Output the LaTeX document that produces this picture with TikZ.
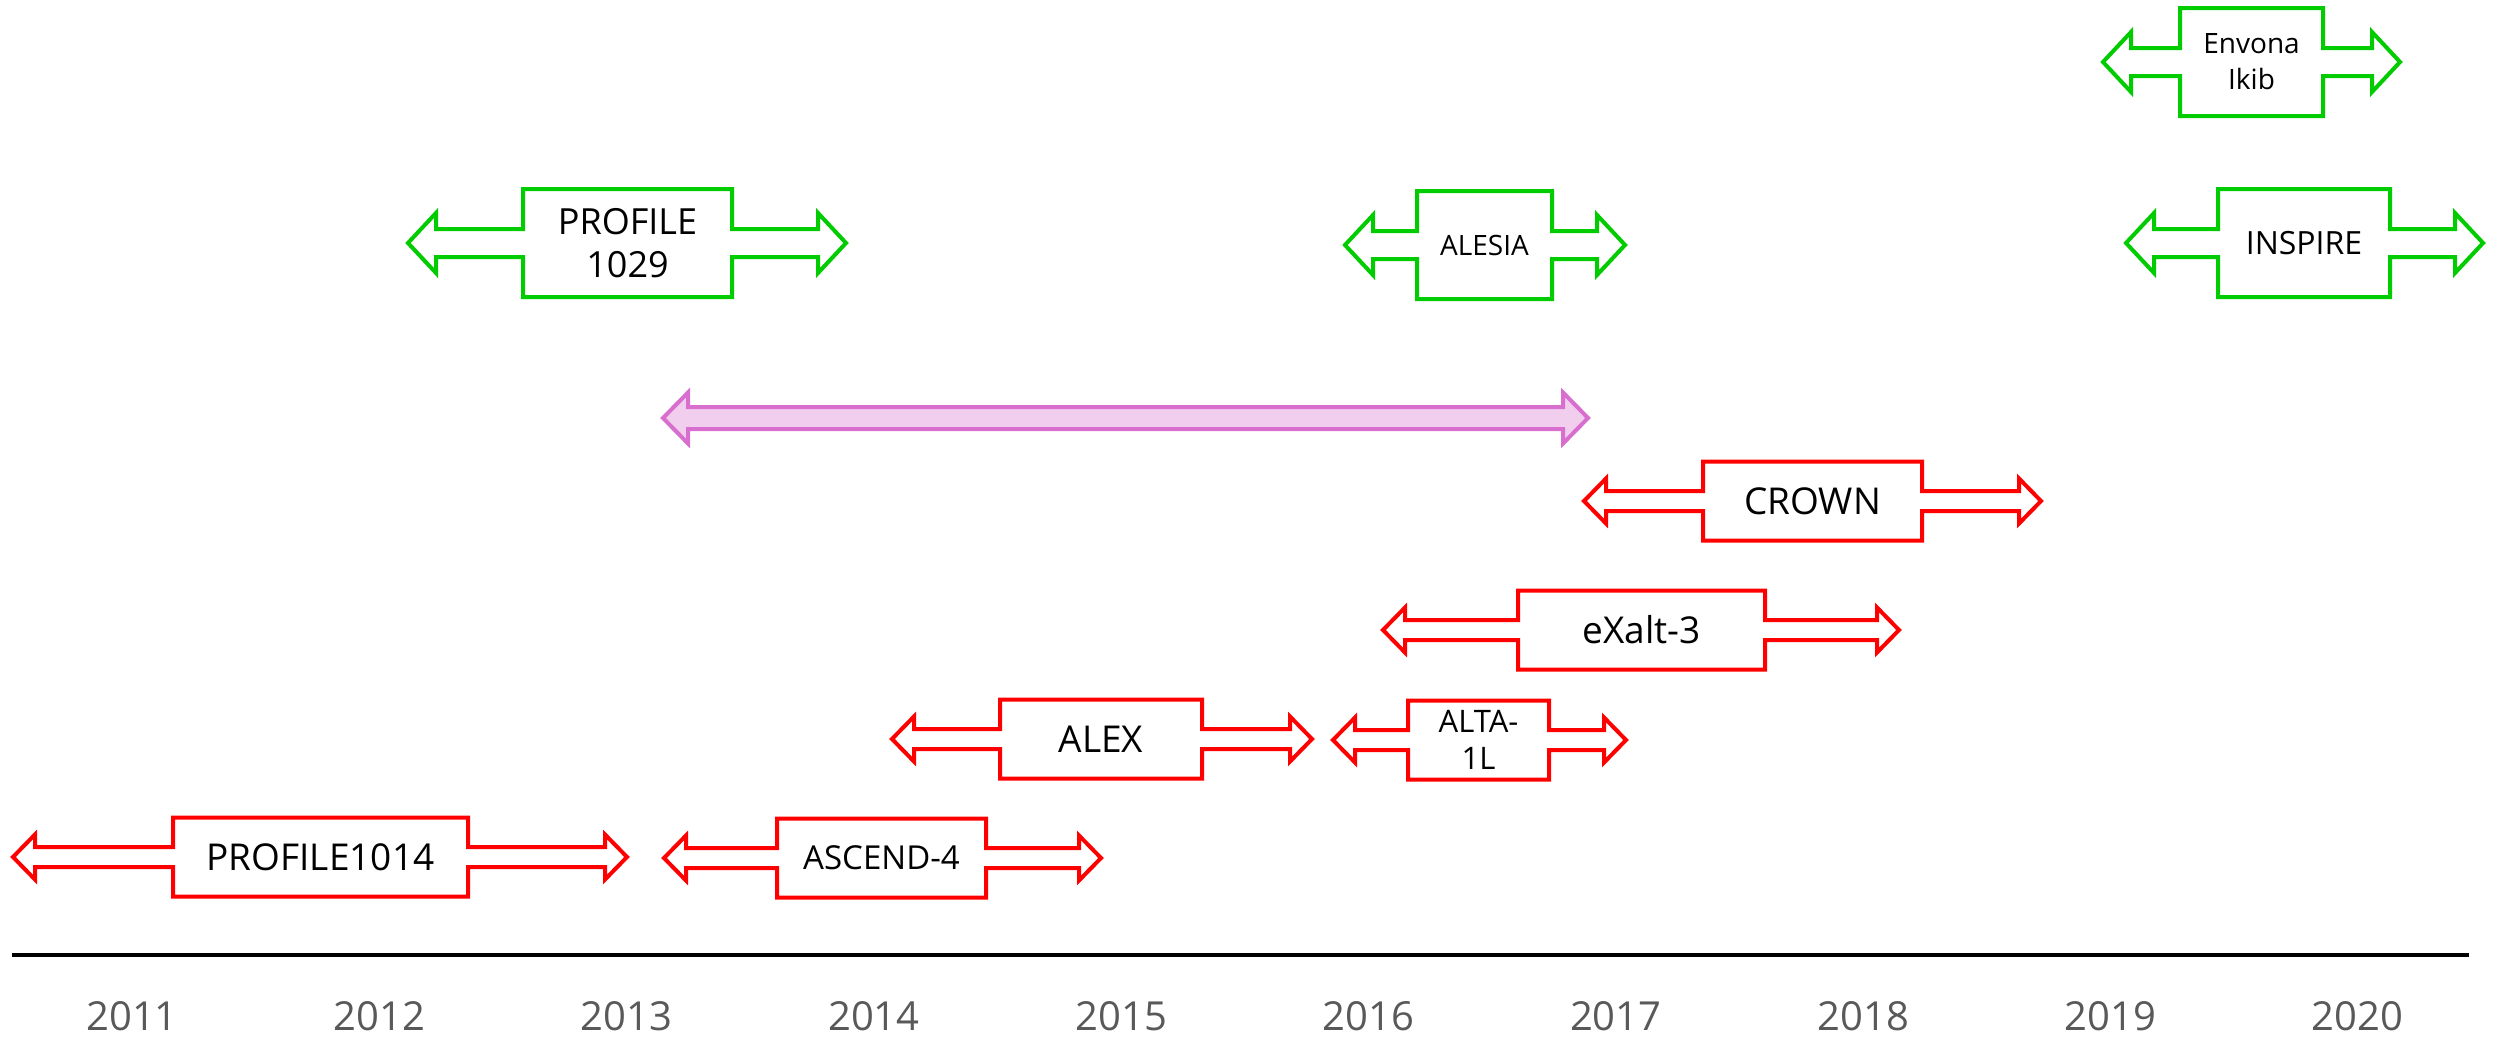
\documentclass[tikz,border=0pt]{standalone}
\usepackage{fontspec}
\setmainfont{Open Sans}
\definecolor{rd}{HTML}{FF0000}
\definecolor{gr}{HTML}{00CC00}
\definecolor{pkline}{HTML}{D86FCF}
\definecolor{pkfill}{HTML}{F2CEEE}
\definecolor{yr}{HTML}{595959}
\newcommand\fsz[2]{\fontsize{#1}{#2}\selectfont}
% #1 style, #2 xL, #3 x1, #4 x2, #5 xR, #6 yc ; dims from \BH \SH \HH \HL
\newcommand\dbl[6]{%
  \draw[#1] (#2,#6) -- ({#2+\HL},{#6-\HH}) -- ({#2+\HL},{#6-\SH}) -- (#3,{#6-\SH})
    -- (#3,{#6-\BH}) -- (#4,{#6-\BH}) -- (#4,{#6-\SH}) -- ({#5-\HL},{#6-\SH})
    -- ({#5-\HL},{#6-\HH}) -- (#5,#6) -- ({#5-\HL},{#6+\HH}) -- ({#5-\HL},{#6+\SH})
    -- (#4,{#6+\SH}) -- (#4,{#6+\BH}) -- (#3,{#6+\BH}) -- (#3,{#6+\SH})
    -- ({#2+\HL},{#6+\SH}) -- ({#2+\HL},{#6+\HH}) -- cycle;}
\begin{document}
\begin{tikzpicture}[x=1pt,y=-1pt,
  redbox/.style={draw=rd,line width=4pt,fill=white,line join=miter},
  greenbox/.style={draw=gr,line width=4pt,fill=white,line join=miter},
  pinkbar/.style={draw=pkline,line width=4pt,fill=pkfill,line join=miter},
  lbl/.style={align=center,inner sep=0pt,text=black},
  year/.style={text=yr,font=\fsz{40}{48},inner sep=0pt}]
\useasboundingbox (0,0) rectangle (2502,1036);
% axis
\coordinate (axL) at (12,955);
\coordinate (axR) at (2469,955);
\draw[line width=3.5pt] (axL) -- (axR);
\foreach \y [count=\i from 0] in {2011,...,2020}
  \node[year] (y\y) at ({132+247.3*\i},1016) {\y};
% red shapes
\def\BH{39.5}\def\SH{10}\def\HH{22.5}\def\HL{22}
\dbl{redbox}{13}{173}{468}{627}{857}
\node[lbl,font=\fsz{37}{44}] (p1014) at (320.5,857) {PROFILE1014};
\dbl{redbox}{664}{777}{986}{1101}{858}
\node[lbl,font=\fsz{33}{40}] (ascend) at (881.5,858) {ASCEND-4};
\dbl{redbox}{892}{1000}{1202}{1312}{739}
\node[lbl,font=\fsz{37}{44}] (alex) at (1101,739) {ALEX};
\dbl{redbox}{1333}{1408}{1549}{1626}{740}
\node[lbl,font=\fsz{31}{37}] (alta) at (1478.5,740) {ALTA-\\1L};
\dbl{redbox}{1383}{1518}{1765}{1899}{630}
\node[lbl,font=\fsz{37}{44}] (exalt) at (1641.5,630) {eXalt-3};
\dbl{redbox}{1584}{1703}{1922}{2041}{501}
\node[lbl,font=\fsz{37}{44}] (crown) at (1812.5,501) {CROWN};
% pink bar
\def\BH{11}\def\SH{11}\def\HH{25.5}\def\HL{25}
\dbl{pinkbar}{663}{1125}{1125}{1588}{418}
\coordinate (pinkL) at (663,418);
\coordinate (pinkR) at (1588,418);
% green shapes
\def\BH{54}\def\SH{14}\def\HH{30}\def\HL{28}
\dbl{greenbox}{408}{523}{732}{846}{243}
\node[lbl,font=\fsz{36}{43}] (p1029) at (627.5,243) {PROFILE\\1029};
\dbl{greenbox}{1345}{1417}{1552}{1625}{245}
\node[lbl,font=\fsz{28}{34}] (alesia) at (1484.5,245) {ALESIA};
\dbl{greenbox}{2126}{2218}{2390}{2483}{243}
\node[lbl,font=\fsz{32}{38}] (inspire) at (2304,243) {INSPIRE};
\dbl{greenbox}{2103}{2180}{2323}{2400}{62}
\node[lbl,font=\fsz{28}{36}] (envona) at (2251.5,62) {Envona\\Ikib};
\end{tikzpicture}
\end{document}
